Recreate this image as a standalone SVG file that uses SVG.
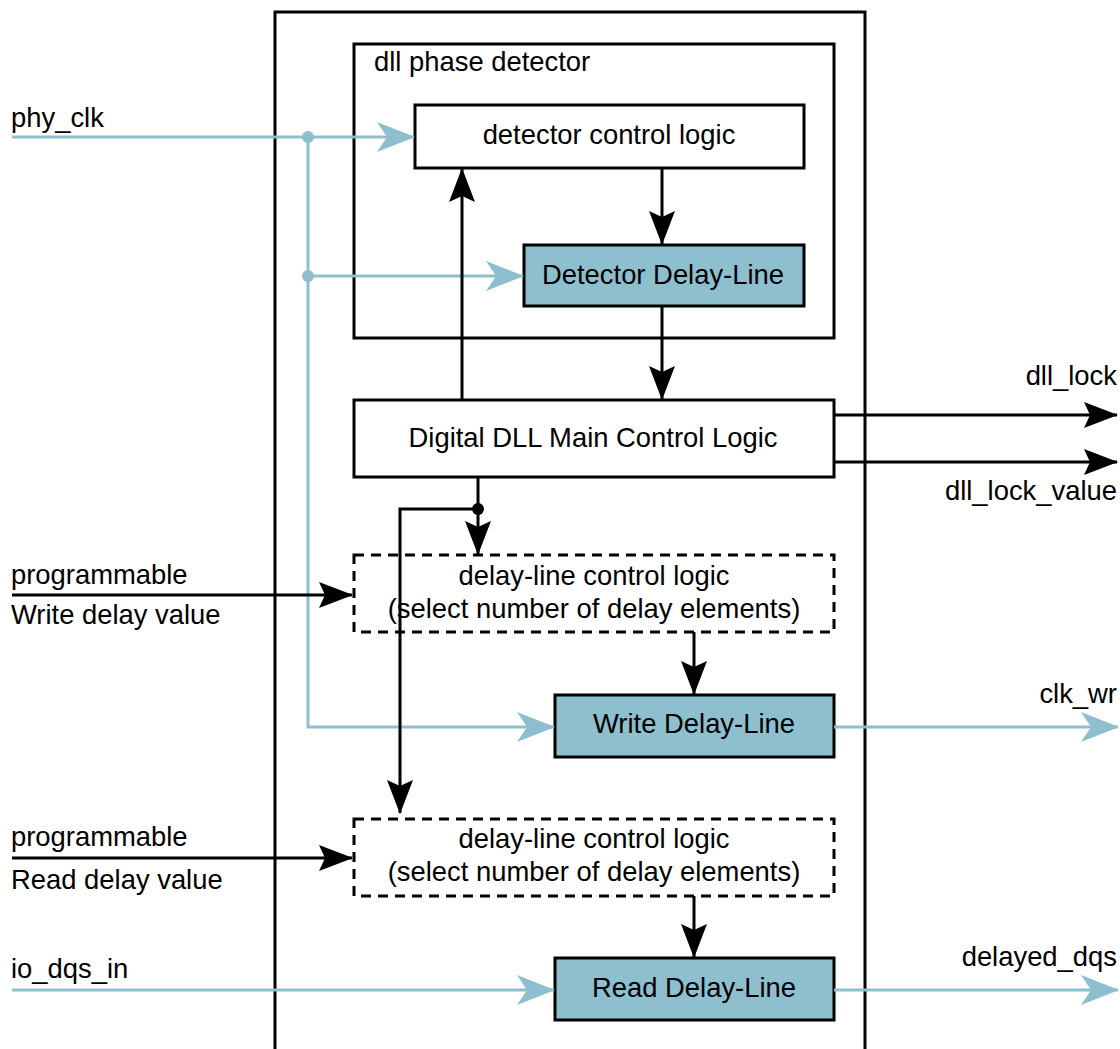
<svg xmlns="http://www.w3.org/2000/svg" width="1120" height="1049" viewBox="0 0 1120 1049">
<style>
text{font-family:"Liberation Sans",Arial,sans-serif;font-size:27.4px;fill:#000}
.box{fill:#fff;stroke:#000;stroke-width:3}
.blue{fill:#8DBFCE;stroke:#000;stroke-width:3}
.dash{fill:#fff;stroke:#000;stroke-width:3;stroke-dasharray:10 7}
.k{fill:none;stroke:#000;stroke-width:3}
.b{fill:none;stroke:#8DBFCE;stroke-width:3}
.mid{text-anchor:middle}
.end{text-anchor:end}
</style>
<defs>
<marker id="ak" markerUnits="userSpaceOnUse" viewBox="0 0 34 26" markerWidth="34" markerHeight="26" refX="33" refY="13" orient="auto">
<path d="M0,0 L34,13 L0,26 L6,13 z" fill="#000"/>
</marker>
<marker id="ab" markerUnits="userSpaceOnUse" viewBox="0 0 38 30" markerWidth="38" markerHeight="30" refX="37" refY="15" orient="auto">
<path d="M0,0 L38,15 L0,30 L10,15 z" fill="#8DBFCE"/>
</marker>
</defs>
<g id="outer"><rect x="275" y="12" width="590" height="1060" class="box"/></g>
<g id="phase-detector"><rect x="354" y="44" width="480" height="294" class="box"/><text x="374" y="71">dll phase detector</text></g>
<g id="detector-control"><rect x="415" y="105" width="389" height="63" class="box"/><text x="609" y="144" class="mid">detector control logic</text></g>
<g id="detector-delay"><rect x="524" y="245" width="280" height="61" class="blue"/><text x="663" y="284" class="mid">Detector Delay-Line</text></g>
<g id="main-control"><rect x="354" y="400" width="480" height="77" class="box"/><text x="593" y="447" class="mid">Digital DLL Main Control Logic</text></g>
<g id="write-control"><rect x="354" y="555" width="480" height="77" class="dash"/><text x="594" y="585" class="mid">delay-line control logic</text><text x="594" y="618" class="mid">(select number of delay elements)</text></g>
<g id="write-delay"><rect x="555" y="695" width="279" height="62" class="blue"/><text x="694" y="733" class="mid">Write Delay-Line</text></g>
<g id="read-control"><rect x="354" y="819" width="480" height="77" class="dash"/><text x="594" y="848" class="mid">delay-line control logic</text><text x="594" y="881" class="mid">(select number of delay elements)</text></g>
<g id="read-delay"><rect x="555" y="958" width="279" height="62" class="blue"/><text x="694" y="997" class="mid">Read Delay-Line</text></g>
<g id="connectors">
<line x1="12" y1="137" x2="414" y2="137" class="b" marker-end="url(#ab)"/>
<polyline points="308,137 308,727 554,727" class="b" marker-end="url(#ab)"/>
<line x1="308" y1="276" x2="523" y2="276" class="b" marker-end="url(#ab)"/>
<circle cx="308" cy="137" r="6" fill="#8DBFCE"/>
<circle cx="308" cy="276" r="6" fill="#8DBFCE"/>
<line x1="462" y1="400" x2="462" y2="169" class="k" marker-end="url(#ak)"/>
<line x1="662" y1="168" x2="662" y2="244" class="k" marker-end="url(#ak)"/>
<line x1="662" y1="306" x2="662" y2="399" class="k" marker-end="url(#ak)"/>
<line x1="834" y1="415" x2="1117" y2="415" class="k" marker-end="url(#ak)"/>
<line x1="834" y1="462" x2="1117" y2="462" class="k" marker-end="url(#ak)"/>
<line x1="478" y1="477" x2="478" y2="554" class="k" marker-end="url(#ak)"/>
<circle cx="478" cy="509" r="6" fill="#000"/>
<polyline points="478,509 400,509 400,813" class="k" marker-end="url(#ak)"/>
<line x1="12" y1="595" x2="352" y2="595" class="k" marker-end="url(#ak)"/>
<line x1="12" y1="858" x2="352" y2="858" class="k" marker-end="url(#ak)"/>
<line x1="694" y1="632" x2="694" y2="694" class="k" marker-end="url(#ak)"/>
<line x1="694" y1="896" x2="694" y2="957" class="k" marker-end="url(#ak)"/>
<line x1="834" y1="727" x2="1118" y2="727" class="b" marker-end="url(#ab)"/>
<line x1="12" y1="990" x2="554" y2="990" class="b" marker-end="url(#ab)"/>
<line x1="834" y1="990" x2="1118" y2="990" class="b" marker-end="url(#ab)"/>
</g>
<g id="labels">
<text x="11" y="127">phy_clk</text>
<text x="1117" y="385" class="end">dll_lock</text>
<text x="1117" y="500" class="end">dll_lock_value</text>
<text x="11" y="584">programmable</text>
<text x="11" y="624">Write delay value</text>
<text x="1117" y="703" class="end">clk_wr</text>
<text x="11" y="846">programmable</text>
<text x="11" y="889">Read delay value</text>
<text x="11" y="978">io_dqs_in</text>
<text x="1117" y="966" class="end">delayed_dqs</text>
</g>
</svg>
